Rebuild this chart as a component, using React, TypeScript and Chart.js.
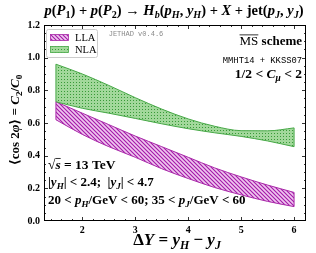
import React, { useEffect, useRef } from "react";
import { Chart, registerables } from "chart.js";

Chart.register(...registerables);

const deltaY = [1.5, 2, 2.5, 3, 3.5, 4, 4.5, 5, 5.5, 6];
const nlaUpper = [0.96, 0.9, 0.83, 0.755, 0.685, 0.625, 0.58, 0.553, 0.552, 0.57];
const nlaLower = [0.73, 0.69, 0.66, 0.628, 0.595, 0.565, 0.54, 0.518, 0.49, 0.455];
const llaUpper = [0.73, 0.66, 0.59, 0.52, 0.455, 0.39, 0.325, 0.27, 0.22, 0.175];
const llaLower = [0.62, 0.53, 0.455, 0.39, 0.32, 0.26, 0.205, 0.16, 0.12, 0.088];

const xTicks = [2, 3, 4, 5, 6];
const yTicks = [0, 0.2, 0.4, 0.6, 0.8, 1.0, 1.2];
const yTickLabels = ["0.0", "0.2", "0.4", "0.6", "0.8", "1.0", "1.2"];
const seriesNames = ["LLA", "NLA"];

const SERIF = '"Liberation Serif", "DejaVu Serif", serif';
const MONO = '"Liberation Mono", "DejaVu Sans Mono", monospace';

type Seg = { t: string; s?: string; sub?: boolean; over?: boolean };

function fontOf(st: string, size: number) {
  if (st === "mono") return `${size}px ${MONO}`;
  const it = st.includes("i") ? "italic " : "";
  const b = st.includes("b") ? "bold " : "";
  return `${it}${b}${size}px ${SERIF}`;
}

function rich(
  ctx: CanvasRenderingContext2D,
  segs: Seg[],
  x: number,
  y: number,
  size: number,
  align: "left" | "center" | "right",
  color = "#000"
) {
  ctx.save();
  ctx.textBaseline = "alphabetic";
  ctx.textAlign = "left";
  ctx.fillStyle = color;
  ctx.strokeStyle = color;
  const widths = segs.map((sg) => {
    const sz = sg.sub ? size * 0.7 : size;
    ctx.font = fontOf(sg.s ?? "b", sz);
    return ctx.measureText(sg.t).width;
  });
  const total = widths.reduce((a, b) => a + b, 0);
  let cx = align === "left" ? x : align === "center" ? x - total / 2 : x - total;
  segs.forEach((sg, i) => {
    const sz = sg.sub ? size * 0.7 : size;
    ctx.font = fontOf(sg.s ?? "b", sz);
    const yy = sg.sub ? y + size * 0.22 : y;
    ctx.fillText(sg.t, cx, yy);
    if (sg.over) {
      ctx.lineWidth = 0.8;
      ctx.beginPath();
      ctx.moveTo(cx, y - size * 0.78);
      ctx.lineTo(cx + widths[i], y - size * 0.78);
      ctx.stroke();
    }
    cx += widths[i];
  });
  ctx.restore();
}

function makeHatch(ctx: CanvasRenderingContext2D) {
  const c = document.createElement("canvas");
  c.width = 4;
  c.height = 4;
  const g = c.getContext("2d")!;
  g.fillStyle = "#efc6ef";
  g.fillRect(0, 0, 4, 4);
  g.strokeStyle = "#a318a8";
  g.lineWidth = 1.1;
  g.beginPath();
  g.moveTo(-1, -1);
  g.lineTo(5, 5);
  g.moveTo(-1, 3);
  g.lineTo(1, 5);
  g.moveTo(3, -1);
  g.lineTo(5, 1);
  g.stroke();
  return ctx.createPattern(c, "repeat")!;
}

function makeDots(ctx: CanvasRenderingContext2D) {
  const c = document.createElement("canvas");
  c.width = 3;
  c.height = 3;
  const g = c.getContext("2d")!;
  g.fillStyle = "#a2d89b";
  g.fillRect(0, 0, 3, 3);
  g.fillStyle = "#389a38";
  g.fillRect(1, 1, 1, 1);
  return ctx.createPattern(c, "repeat")!;
}

export default function App() {
  const ref = useRef<HTMLCanvasElement>(null);

  useEffect(() => {
    document.body.style.margin = "0";
    const canvas = ref.current!;
    const ctx0 = canvas.getContext("2d")!;
    const hatch = makeHatch(ctx0);
    const dots = makeDots(ctx0);
    const green = "#46a846";
    const purple = "#a828a8";

    const pts = (arr: number[]) => deltaY.map((x, i) => ({ x, y: arr[i] }));

    const bandEdges = {
      id: "bandEdges",
      afterDatasetsDraw(chart: any) {
        const ctx: CanvasRenderingContext2D = chart.ctx;
        const xs = chart.scales.x;
        const ys = chart.scales.y;
        const n = deltaY.length - 1;
        const bands = [
          { up: nlaUpper, lo: nlaLower, c: green },
          { up: llaUpper, lo: llaLower, c: purple },
        ];
        ctx.save();
        ctx.lineWidth = 1;
        bands.forEach((b) => {
          ctx.strokeStyle = b.c;
          [0, n].forEach((i) => {
            const px = xs.getPixelForValue(deltaY[i]);
            ctx.beginPath();
            ctx.moveTo(px, ys.getPixelForValue(b.up[i]));
            ctx.lineTo(px, ys.getPixelForValue(b.lo[i]));
            ctx.stroke();
          });
        });
        ctx.restore();
      },
    };

    const decor = {
      id: "decor",
      afterDraw(chart: any) {
        const ctx: CanvasRenderingContext2D = chart.ctx;
        const xs = chart.scales.x;
        const ys = chart.scales.y;
        const { left, right, top, bottom } = chart.chartArea;
        ctx.save();
        ctx.strokeStyle = "#000";
        ctx.lineWidth = 1;
        ctx.strokeRect(left + 0.5, top + 0.5, right - left - 1, bottom - top - 1);
        const tick = (x1: number, y1: number, x2: number, y2: number) => {
          ctx.beginPath();
          ctx.moveTo(x1, y1);
          ctx.lineTo(x2, y2);
          ctx.stroke();
        };
        ctx.lineWidth = 0.8;
        for (let v = 1.4; v <= 6.21; v += 0.2) {
          const px = Math.round(xs.getPixelForValue(v)) + 0.5;
          const major = Math.abs(v - Math.round(v)) < 1e-6;
          const L = major ? 4 : 2;
          tick(px, bottom, px, bottom - L);
          tick(px, top, px, top + L);
        }
        for (let v = 0.05; v < 1.2; v += 0.05) {
          const py = Math.round(ys.getPixelForValue(v)) + 0.5;
          const major = Math.abs(v / 0.2 - Math.round(v / 0.2)) < 1e-6;
          const L = major ? 4 : 2;
          tick(left, py, left + L, py);
          tick(right, py, right - L, py);
        }
        ctx.fillStyle = "#000";
        ctx.font = `bold 10px ${SERIF}`;
        ctx.textAlign = "center";
        ctx.textBaseline = "top";
        xTicks.forEach((v) => ctx.fillText(String(v), xs.getPixelForValue(v), bottom + 4));
        ctx.textAlign = "right";
        ctx.textBaseline = "middle";
        yTicks.forEach((v, i) => ctx.fillText(yTickLabels[i], left - 4, ys.getPixelForValue(v)));
        ctx.restore();

        rich(
          ctx,
          [
            { t: "p", s: "bi" }, { t: "(" }, { t: "P", s: "bi" }, { t: "1", sub: true }, { t: ") + " },
            { t: "p", s: "bi" }, { t: "(" }, { t: "P", s: "bi" }, { t: "2", sub: true }, { t: ") → " },
            { t: "H", s: "bi" }, { t: "b", s: "bi", sub: true }, { t: "(" }, { t: "p", s: "bi" },
            { t: "H", s: "bi", sub: true }, { t: ", " }, { t: "y", s: "bi" }, { t: "H", s: "bi", sub: true },
            { t: ") + " }, { t: "X", s: "bi" }, { t: " + jet(" }, { t: "p", s: "bi" },
            { t: "J", s: "bi", sub: true }, { t: ", " }, { t: "y", s: "bi" }, { t: "J", s: "bi", sub: true },
            { t: ")" },
          ],
          174,
          15,
          14.5,
          "center"
        );

        rich(
          ctx,
          [
            { t: "Δ" }, { t: "Y", s: "bi" }, { t: " = " }, { t: "y", s: "bi" }, { t: "H", s: "bi", sub: true },
            { t: " − " }, { t: "y", s: "bi" }, { t: "J", s: "bi", sub: true },
          ],
          177,
          245,
          17,
          "center"
        );

        ctx.save();
        ctx.translate(19, 120);
        ctx.rotate(-Math.PI / 2);
        rich(
          ctx,
          [
            { t: "⟨cos 2" }, { t: "φ", s: "bi" }, { t: "⟩ = " }, { t: "C", s: "bi" }, { t: "2", sub: true },
            { t: "/" }, { t: "C", s: "bi" }, { t: "0", sub: true },
          ],
          0,
          0,
          13,
          "center"
        );
        ctx.restore();

        rich(ctx, [{ t: "MS", s: "n", over: true }, { t: " scheme" }], 302, 45, 13, "right");
        rich(ctx, [{ t: "MMHT14 + KKSS07", s: "mono" }], 302, 63, 8.8, "right");
        rich(
          ctx,
          [{ t: "1/2 < " }, { t: "C", s: "bi" }, { t: "μ", s: "bi", sub: true }, { t: " < 2" }],
          302,
          78,
          13.5,
          "right"
        );
        rich(ctx, [{ t: "JETHAD v0.4.6", s: "mono" }], 136, 36, 7, "center", "#8a8a8a");

        rich(ctx, [{ t: "√" }, { t: "s", s: "bi", over: true }, { t: " = 13 TeV" }], 48, 169, 13.5, "left");
        rich(
          ctx,
          [
            { t: "|" }, { t: "y", s: "bi" }, { t: "H", s: "bi", sub: true }, { t: "| < 2.4;  |" },
            { t: "y", s: "bi" }, { t: "J", s: "bi", sub: true }, { t: "| < 4.7" },
          ],
          48,
          186,
          13,
          "left"
        );
        rich(
          ctx,
          [
            { t: "20 < " }, { t: "p", s: "bi" }, { t: "H", s: "bi", sub: true }, { t: "/GeV < 60; 35 < " },
            { t: "p", s: "bi" }, { t: "J", s: "bi", sub: true }, { t: "/GeV < 60" },
          ],
          48,
          204,
          13,
          "left"
        );

        ctx.save();
        ctx.fillStyle = "rgba(255,255,255,0.85)";
        ctx.strokeStyle = "#cccccc";
        ctx.lineWidth = 1;
        ctx.beginPath();
        (ctx as any).roundRect(46.5, 29.5, 51, 28, 2);
        ctx.fill();
        ctx.stroke();
        const sw = [
          { y: 34.5, fill: hatch, edge: purple, name: seriesNames[0] },
          { y: 46.5, fill: dots, edge: green, name: seriesNames[1] },
        ];
        sw.forEach((s) => {
          ctx.fillStyle = s.fill as any;
          ctx.fillRect(50.5, s.y, 18, 6);
          ctx.strokeStyle = s.edge;
          ctx.lineWidth = 0.8;
          ctx.strokeRect(50.5, s.y, 18, 6);
          ctx.fillStyle = "#000";
          ctx.font = `10.5px ${SERIF}`;
          ctx.textAlign = "left";
          ctx.textBaseline = "alphabetic";
          ctx.fillText(s.name, 75, s.y + 6.5);
        });
        ctx.restore();
      },
    };

    const chart = new Chart(canvas, {
      type: "line",
      data: {
        datasets: [
          { label: "NLA up", data: pts(nlaUpper), borderColor: green, borderWidth: 1, pointRadius: 0, fill: false, cubicInterpolationMode: "monotone" },
          { label: "NLA", data: pts(nlaLower), borderColor: green, borderWidth: 1, pointRadius: 0, fill: "-1", backgroundColor: dots, cubicInterpolationMode: "monotone" },
          { label: "LLA up", data: pts(llaUpper), borderColor: purple, borderWidth: 1, pointRadius: 0, fill: false, cubicInterpolationMode: "monotone" },
          { label: "LLA", data: pts(llaLower), borderColor: purple, borderWidth: 1, pointRadius: 0, fill: "-1", backgroundColor: hatch, cubicInterpolationMode: "monotone" },
        ] as any,
      },
      options: {
        responsive: false,
        animation: false,
        layout: { padding: { left: 44, right: 10, top: 25, bottom: 32 } },
        scales: {
          x: { type: "linear", min: 1.275, max: 6.225, display: false },
          y: { type: "linear", min: 0, max: 1.2, display: false },
        },
        plugins: { legend: { display: false }, tooltip: { enabled: false } },
      },
      plugins: [bandEdges, decor],
    });
    return () => chart.destroy();
  }, []);

  return (
    <div style={{ position: "absolute", left: 0, top: 0, width: 316, height: 253, background: "#fff" }}>
      <canvas ref={ref} width={316} height={253} />
    </div>
  );
}
